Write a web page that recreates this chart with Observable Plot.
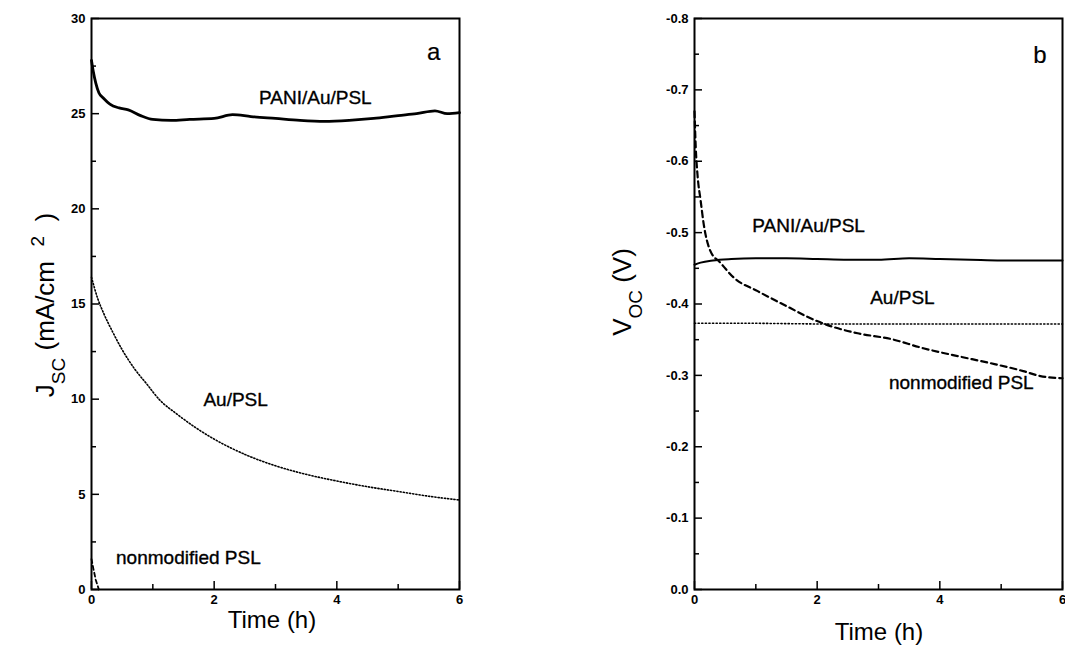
<!DOCTYPE html>
<html>
<head>
<meta charset="utf-8">
<script src="https://cdn.jsdelivr.net/npm/d3@7"></script>
<script src="https://cdn.jsdelivr.net/npm/@observablehq/plot@0.6"></script>
<style>
  html, body { margin: 0; padding: 0; background: #fff; }
  #wrap { position: relative; width: 1065px; height: 647px; overflow: hidden; }
  #wrap svg { position: absolute; top: 0; overflow: visible; }
</style>
</head>
<body>
<div id="wrap"></div>
<script>
// ---- Panel a: short-circuit current density J_SC (mA/cm^2) vs time (h)
const panelATimePANI = [0, 0.03, 0.07, 0.12, 0.2, 0.3, 0.45, 0.6, 0.8, 1.0, 1.3, 1.6, 2.0, 2.3, 2.6, 3.0, 3.4, 3.8, 4.2, 4.6, 5.0, 5.3, 5.6, 5.8, 6.0];
const panelAJscPANI  = [27.8, 27.2, 26.6, 26.1, 25.8, 25.5, 25.3, 25.2, 24.9, 24.7, 24.65, 24.7, 24.75, 24.95, 24.85, 24.75, 24.65, 24.6, 24.65, 24.75, 24.9, 25.0, 25.15, 25.0, 25.05];
const panelATimeAu = [0, 0.1, 0.2, 0.35, 0.5, 0.7, 0.9, 1.1, 1.4, 1.7, 2.0, 2.5, 3.0, 3.5, 4.0, 4.5, 5.0, 5.5, 6.0];
const panelAJscAu  = [16.4, 15.3, 14.5, 13.5, 12.6, 11.6, 10.8, 10.0, 9.2, 8.5, 7.9, 7.1, 6.5, 6.05, 5.7, 5.4, 5.15, 4.9, 4.7];
const panelATimeNon = [0, 0.03, 0.07, 0.12];
const panelAJscNon  = [1.6, 1.1, 0.5, 0];

// ---- Panel b: open-circuit voltage V_OC (V) vs time (h)
const panelBTimePANI = [0, 0.1, 0.3, 0.6, 1.0, 1.5, 2.0, 2.5, 3.0, 3.5, 4.0, 4.5, 5.0, 5.5, 6.0];
const panelBVocPANI  = [-0.455, -0.458, -0.461, -0.463, -0.464, -0.464, -0.463, -0.462, -0.462, -0.464, -0.463, -0.462, -0.461, -0.461, -0.461];
const panelBTimeAu = [0, 1, 2, 3, 4, 5, 6];
const panelBVocAu  = [-0.373, -0.373, -0.372, -0.372, -0.372, -0.372, -0.372];
const panelBTimeNon = [0, 0.02, 0.05, 0.1, 0.15, 0.26, 0.42, 0.64, 1.03, 1.57, 1.84, 2.22, 2.66, 3.2, 3.73, 4.29, 4.83, 5.36, 5.64, 6.0];
const panelBVocNon  = [-0.67, -0.62, -0.58, -0.545, -0.512, -0.474, -0.458, -0.437, -0.418, -0.394, -0.382, -0.369, -0.359, -0.351, -0.338, -0.327, -0.317, -0.306, -0.299, -0.296];

// ---- Axis ticks
const xMajor = [0, 2, 4, 6];
const xMinor = [1, 3, 5];
const aYMajor = [0, 5, 10, 15, 20, 25, 30];
const aYMinor = [2.5, 7.5, 12.5, 17.5, 22.5, 27.5];
const bYMajor = [0, -0.1, -0.2, -0.3, -0.4, -0.5, -0.6, -0.7, -0.8];
const bYMinor = [-0.05, -0.15, -0.25, -0.35, -0.45, -0.55, -0.65, -0.75];

const FONT = "Liberation Sans, Arial, sans-serif";
const zip = (t, v) => t.map((x, i) => ({x, y: v[i]}));

// frame inner size (px) is the same for both panels
const FW = 368, FH = 571;

function axes(yMajor, yMinor, yFormat) {
  const tickStyle = {fontSize: 13, fontWeight: "bold", fontFamily: FONT};
  return [
    // inward tick marks
    Plot.tickX(xMajor, {x: d => d, insetTop: FH - 8, stroke: "#000", strokeWidth: 1.5}),
    Plot.tickX(xMinor, {x: d => d, insetTop: FH - 5, stroke: "#000", strokeWidth: 1.5}),
    Plot.tickY(yMajor, {y: d => d, insetRight: FW - 8, stroke: "#000", strokeWidth: 1.5}),
    Plot.tickY(yMinor, {y: d => d, insetRight: FW - 5, stroke: "#000", strokeWidth: 1.5}),
    // tick labels
    Plot.axisX(xMajor, {anchor: "bottom", tickSize: 0, tickPadding: 5, tickFormat: d => String(d), ...tickStyle, label: null}),
    Plot.axisY(yMajor, {anchor: "left", tickSize: 0, tickPadding: 6, tickFormat: yFormat, ...tickStyle, label: null}),
    Plot.frame({stroke: "#000", strokeWidth: 2})
  ];
}

const labelStyle = {fontSize: 19, fontFamily: FONT, fill: "#000", stroke: "#000", strokeWidth: 0.35, textAnchor: "middle", letterSpacing: "-0.4px"};

const plotA = Plot.plot({
  width: 480, height: 647,
  marginLeft: 91, marginRight: 21, marginTop: 18, marginBottom: 58,
  x: {domain: [0, 6]},
  y: {domain: [0, 30]},
  style: {fontFamily: FONT, overflow: "visible"},
  marks: [
    Plot.line(zip(panelATimeAu, panelAJscAu), {x: "x", y: "y", stroke: "#000", strokeWidth: 1.6, strokeDasharray: "1.2,2", curve: "monotone-x"}),
    Plot.line(zip(panelATimeNon, panelAJscNon), {x: "x", y: "y", stroke: "#000", strokeWidth: 1.8, strokeDasharray: "4,3"}),
    Plot.line(zip(panelATimePANI, panelAJscPANI), {x: "x", y: "y", stroke: "#000", strokeWidth: 2.8, curve: "monotone-x"}),
    ...axes(aYMajor, aYMinor, d => String(d)),
    Plot.text(["PANI/Au/PSL"], {x: 3.65, y: 25.85, text: d => d, ...labelStyle}),
    Plot.text(["Au/PSL"], {x: 2.35, y: 9.98, text: d => d, ...labelStyle}),
    Plot.text(["nonmodified PSL"], {x: 1.58, y: 1.68, text: d => d, ...labelStyle}),
    Plot.text(["a"], {x: 5.58, y: 28.2, text: d => d, ...labelStyle, fontSize: 24, strokeWidth: 0.2})
  ]
});

const plotB = Plot.plot({
  width: 505, height: 647,
  marginLeft: 134, marginRight: 3, marginTop: 18, marginBottom: 58,
  x: {domain: [0, 6]},
  y: {domain: [0, -0.8]},
  style: {fontFamily: FONT, overflow: "visible"},
  marks: [
    Plot.line(zip(panelBTimeAu, panelBVocAu), {x: "x", y: "y", stroke: "#000", strokeWidth: 1.6, strokeDasharray: "1.2,2.4"}),
    Plot.line(zip(panelBTimeNon, panelBVocNon), {x: "x", y: "y", stroke: "#000", strokeWidth: 2.2, strokeDasharray: "6,4", curve: "monotone-x"}),
    Plot.line(zip(panelBTimePANI, panelBVocPANI), {x: "x", y: "y", stroke: "#000", strokeWidth: 2, curve: "monotone-x"}),
    ...axes(bYMajor, bYMinor, d => d.toFixed(1)),
    Plot.text(["PANI/Au/PSL"], {x: 1.86, y: -0.509, text: d => d, ...labelStyle}),
    Plot.text(["Au/PSL"], {x: 3.39, y: -0.408, text: d => d, ...labelStyle}),
    Plot.text(["nonmodified PSL"], {x: 4.35, y: -0.289, text: d => d, ...labelStyle}),
    Plot.text(["b"], {x: 5.63, y: -0.748, text: d => d, ...labelStyle, fontSize: 24, strokeWidth: 0.2})
  ]
});

const wrap = document.getElementById("wrap");
plotA.style.left = "0px";
plotB.style.left = "560px";
wrap.appendChild(plotA);
wrap.appendChild(plotB);

// Axis titles with sub/superscripts as real SVG text
function addTitles(svg, xCenter, xTitleY, yTitleX, yCenter, parts, yFont) {
  const s = d3.select(svg);
  s.append("text")
    .attr("x", xCenter).attr("y", xTitleY)
    .attr("text-anchor", "middle")
    .attr("font-family", FONT).attr("font-size", 24)
    .attr("fill", "#000")
    .text("Time (h)");
  const t = s.append("text")
    .attr("transform", `translate(${yTitleX},${yCenter}) rotate(-90)`)
    .attr("text-anchor", "middle")
    .attr("font-family", FONT).attr("font-size", yFont)
    .attr("fill", "#000")
    .attr("xml:space", "preserve")
    .style("white-space", "pre");
  for (const p of parts) {
    const ts = t.append("tspan").text(p.text);
    if (p.shift) ts.attr("baseline-shift", p.shift).attr("font-size", Math.round(yFont * 0.72));
  }
}

addTitles(plotA, 272, 628, 54, 305, [
  {text: "J"}, {text: "SC", shift: "sub"}, {text: " (mA/cm  "}, {text: "2", shift: "super"}, {text: "  )"}
], 26);
addTitles(plotB, 879 - 560, 640, 631 - 560, 292, [
  {text: "V"}, {text: "OC", shift: "sub"}, {text: " (V)"}
], 26);
</script>
</body>
</html>
